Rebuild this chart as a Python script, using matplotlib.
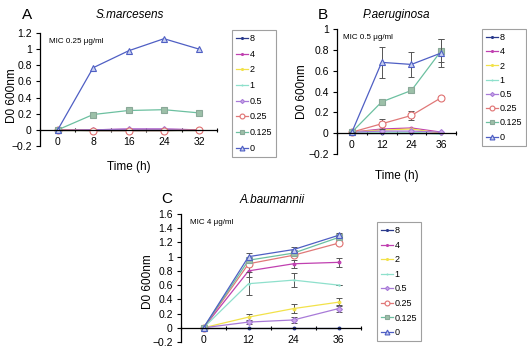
import matplotlib
matplotlib.use("Agg")
import matplotlib.pyplot as plt
from matplotlib.ticker import FixedLocator

plt.rcParams['font.family'] = ['Liberation Sans', 'DejaVu Sans']

# concentrations (legend order)
concs = ['8', '4', '2', '1', '0.5', '0.25', '0.125', '0']

# panel A: S.marcesens
times_a = ['0', '8', '16', '24', '32']
a_vals = {
    '8':     [0, 0.0, 0.0, 0.0, 0.0],
    '4':     [0, 0.0, 0.01, 0.01, 0.0],
    '2':     [0, 0.0, 0.0, 0.0, 0.0],
    '1':     [0, -0.01, -0.01, -0.01, 0.0],
    '0.5':   [0, 0.0, 0.01, 0.01, 0.0],
    '0.25':  [0, -0.01, -0.01, -0.01, 0.0],
    '0.125': [0, 0.19, 0.24, 0.25, 0.21],
    '0':     [0, 0.77, 0.98, 1.13, 1.0],
}

# panel B: P.aeruginosa
times_b = ['0', '12', '24', '36']
b_vals = {
    '8':     [0.0, 0.0, 0.0, 0.0],
    '4':     [0.01, 0.04, 0.05, 0.01],
    '2':     [0.01, 0.03, 0.04, 0.0],
    '1':     [0.01, 0.01, 0.01, -0.01],
    '0.5':   [0.01, 0.02, 0.02, 0.01],
    '0.25':  [0.01, 0.09, 0.17, 0.34],
    '0.125': [0.01, 0.30, 0.41, 0.79],
    '0':     [0.01, 0.68, 0.66, 0.77],
}
b_err = {
    '0':     [0, 0.15, 0.12, 0.13],
    '0.25':  [0, 0.05, 0.04, 0.02],
    '0.125': [0, 0.0, 0.0, 0.11],
}

# panel C: A.baumannii
times_c = ['0', '12', '24', '36']
c_vals = {
    '8':     [0, 0.0, 0.0, 0.0],
    '4':     [0, 0.80, 0.90, 0.92],
    '2':     [0, 0.15, 0.27, 0.36],
    '1':     [0, 0.62, 0.67, 0.60],
    '0.5':   [0, 0.08, 0.11, 0.27],
    '0.25':  [0, 0.90, 1.02, 1.19],
    '0.125': [0, 0.95, 1.05, 1.27],
    '0':     [0, 1.0, 1.1, 1.3],
}
c_err = {
    '0':   [0, 0.05, 0.03, 0.03],
    '4':   [0, 0.08, 0.06, 0.06],
    '1':   [0, 0.16, 0.10, 0.0],
    '2':   [0, 0.05, 0.06, 0.06],
    '0.5': [0, 0.03, 0.04, 0.05],
}

styles = {
    '8':     dict(color='#2a3a8c', marker='o', ms=2, mfc='#2a3a8c', mec='#2a3a8c'),
    '4':     dict(color='#c040b0', marker='o', ms=2, mfc='#c040b0', mec='#c040b0'),
    '2':     dict(color='#f2e24a', marker='o', ms=2, mfc='#f2e24a', mec='#f2e24a'),
    '1':     dict(color='#8ee0cc', marker='o', ms=1, mfc='#8ee0cc', mec='#8ee0cc'),
    '0.5':   dict(color='#a87ad8', marker='D', ms=3, mfc='#c8a8e8', mec='#a87ad8'),
    '0.25':  dict(color='#e07878', marker='o', ms=5, mfc='white', mec='#e07070'),
    '0.125': dict(color='#6cc0a0', marker='s', ms=5, mfc='#9cc0a8', mec='#8aa898'),
    '0':     dict(color='#4f5fc4', marker='^', ms=5, mfc='#c8d0f0', mec='#4f5fc4'),
}


def setup_axes(ax, times, ymin, ymax, mic, ylab_x, ylab_y):
    n = len(times)
    ax.set_xlim(-0.5, n - 0.5)
    ax.set_ylim(ymin, ymax)
    for s in ['top', 'right']:
        ax.spines[s].set_visible(False)
    ax.spines['bottom'].set_position(('data', 0))
    for s in ['left', 'bottom']:
        ax.spines[s].set_linewidth(0.9)
    ax.set_xticks(range(n))
    ax.set_xticklabels(times)
    ax.xaxis.set_minor_locator(FixedLocator([i + 0.5 for i in range(-1, n)]))
    ax.tick_params(axis='x', which='major', length=0, labelsize=7.5, pad=5)
    ax.tick_params(axis='x', which='minor', length=3, direction='inout', width=0.8)
    yt = [round(ymin + 0.2 * i, 2) for i in range(int(round((ymax - ymin) / 0.2)) + 1)]
    ax.set_yticks(yt)
    ax.set_yticklabels(['%g' % t if t >= 0 else '\u22120.2' for t in yt])
    ax.tick_params(axis='y', length=3, width=0.8, labelsize=7.5, pad=3)
    ax.set_ylabel('D0 600nm', fontsize=8.5)
    ax.yaxis.set_label_coords(ylab_x, ylab_y)
    ax.text(0.05, 0.96, mic, transform=ax.transAxes, fontsize=5.8, va='top')


def draw(ax, vals, errs):
    n = len(next(iter(vals.values())))
    for c in concs:
        st = styles[c]
        if c in errs:
            ax.errorbar(range(n), vals[c], yerr=errs[c], fmt='none',
                        ecolor='#555555', elinewidth=0.7, capsize=2, capthick=0.7)
        ax.plot(range(n), vals[c], label=c, lw=0.9, mew=0.8, **st)


fig = plt.figure(figsize=(5.27, 3.54), dpi=100)

ax_a = fig.add_axes([0.0759, 0.5876, 0.336, 0.319])
draw(ax_a, a_vals, {})
setup_axes(ax_a, times_a, -0.2, 1.2, 'MIC 0.25 \u03bcg/ml', -0.125, 0.45)
ax_a.set_xlabel('Time (h)', fontsize=8.5, labelpad=10)

ax_b = fig.add_axes([0.6395, 0.565, 0.2258, 0.353])
draw(ax_b, b_vals, b_err)
setup_axes(ax_b, times_b, -0.2, 1.0, 'MIC 0.5 \u03bcg/ml', -0.24, 0.5)
ax_b.set_xlabel('Time (h)', fontsize=8.5, labelpad=14)

ax_c = fig.add_axes([0.3435, 0.0339, 0.3416, 0.3616])
draw(ax_c, c_vals, c_err)
setup_axes(ax_c, times_c, -0.2, 1.6, 'MIC 4 \u03bcg/ml', -0.15, 0.47)
ax_c.set_xlabel('Time (h)', fontsize=8.5, labelpad=10)

# panel letters and species titles
fig.text(22 / 527, 1 - 15 / 354, 'A', fontsize=11, va='center')
fig.text(318 / 527, 1 - 15 / 354, 'B', fontsize=11, va='center')
fig.text(161 / 527, 1 - 199 / 354, 'C', fontsize=11, va='center')
fig.text(130 / 527, 1 - 15 / 354, 'S.marcesens', fontsize=8.5, style='italic',
         ha='center', va='center')
fig.text(396 / 527, 1 - 15 / 354, 'P.aeruginosa', fontsize=8.5, style='italic',
         ha='center', va='center')
fig.text(272 / 527, 1 - 200 / 354, 'A.baumannii', fontsize=8.5, style='italic',
         ha='center', va='center')

# legends outside each panel
leg_boxes = [(ax_a, 232, 30, 0.74), (ax_b, 482, 29, 0.58), (ax_c, 377, 222, 0.62)]
for ax, lx, ly, spacing in leg_boxes:
    leg = ax.legend(loc='upper left', bbox_to_anchor=(lx / 527, 1 - ly / 354),
                    bbox_transform=fig.transFigure, fontsize=6.5, frameon=True,
                    fancybox=False, edgecolor='#888888', handlelength=1.3,
                    handletextpad=0.2, labelspacing=spacing, borderpad=0.45,
                    borderaxespad=0, markerscale=0.7)
    leg.get_frame().set_linewidth(0.8)

fig.savefig('out.png', dpi=100)
